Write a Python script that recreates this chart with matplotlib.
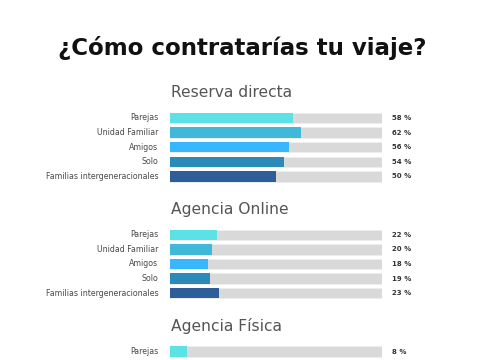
import numpy as np
import matplotlib
matplotlib.use('Agg')
import matplotlib.pyplot as plt

# datos
categorias = ['Parejas', 'Unidad Familiar', 'Amigos', 'Solo', 'Familias intergeneracionales']
secciones = ['Reserva directa', 'Agencia Online', 'Agencia Física']
reserva_directa = [58, 62, 56, 54, 50]
agencia_online = [22, 20, 18, 19, 23]
agencia_fisica = [8]
colores = ['#5ce1e6', '#40b8d7', '#38b6ff', '#2b8ab8', '#2e5e9a']

valores = [reserva_directa, agencia_online, agencia_fisica]

fig = plt.figure(figsize=(4.85, 3.6), dpi=100)
# eje que cubre la zona de las barras, y en "filas"
row_px = 14.6
y0_px = 118
ax = fig.add_axes([170/485, 0, 212/485, 1])
ax.set_xlim(0, 100)
ax.set_ylim((360 - y0_px)/row_px, -y0_px/row_px)
ax.axis('off')

fig.text(0.5, 1 - 48/360, '¿Cómo contratarías tu viaje?', ha='center', va='center',
         fontsize=16.5, fontweight='heavy', color='#111111')

for s, (nombre, vals) in enumerate(zip(secciones, valores)):
    base = s*8
    ax.text(0.5, base - 1.72, nombre, ha='left', va='center', fontsize=11.2,
            color='#555555', clip_on=False)
    pos = base + np.arange(len(vals))
    ax.barh(pos, [100]*len(vals), height=0.7, color='#d9d9d9', edgecolor='#eeeeee', lw=0.6)
    ax.barh(pos, vals, height=0.7, color=colores[:len(vals)])
    for p, v, c in zip(pos, vals, categorias):
        ax.text(-5.5, p, c, ha='right', va='center', fontsize=5.7, color='#4a4a4a', clip_on=False)
        ax.text(104.5, p, f'{v} %', ha='left', va='center', fontsize=5, fontweight='bold',
                color='#333333', clip_on=False)

fig.savefig('out.png', dpi=100)
